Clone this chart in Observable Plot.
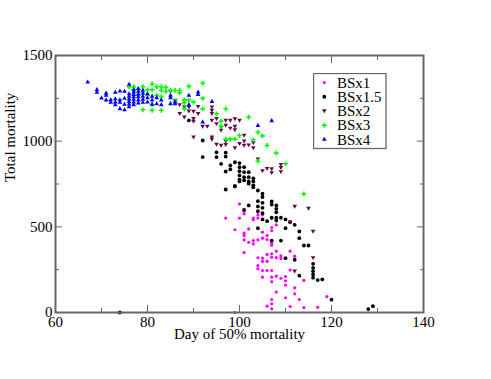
<!DOCTYPE html>
<html>
<head>
<meta charset="utf-8">
<script src="https://cdn.jsdelivr.net/npm/d3@7"></script>
<script src="https://cdn.jsdelivr.net/npm/@observablehq/plot@0.6"></script>
<style>
  html, body { margin: 0; padding: 0; background: #fff; }
  #wrap { position: relative; width: 491px; height: 379px; }
  #legend { position: absolute; left: 313px; top: 73px; }
</style>
</head>
<body>
<div id="wrap"><div id="chart"></div><div id="legend"></div></div>
<script>
// ---- data ----
const seriesNames = ["BSx1", "BSx1.5", "BSx2", "BSx3", "BSx4"];
const seriesColors = ["#ff00ff", "#000000", "#670748", "#00ff00", "#0000ff"];

const xMajorTicks = [60, 80, 100, 120, 140];
const xMinorTicks = [70, 90, 110, 130];
const yMajorTicks = [0, 500, 1000, 1500];
const yMinorTicks = [250, 750, 1250];

const bsx1Day  = [97,99,99,100,100,101,101,101,101,101,101,102,102,103,103,103,103,104,104,104,104,104,104,105,105,105,105,105,105,105,106,106,106,106,106,106,107,107,107,107,107,107,107,107,107,107,107,107,107,108,108,108,108,108,109,109,109,110,110,110,110,111,111,111,112,112,112,113,114,114,117,119];
const bsx1Mort = [551,483,0,634,551,591,576,463,449,424,350,488,410,551,541,420,400,570,551,424,319,274,255,570,469,434,317,298,245,206,449,426,339,298,245,37,551,477,404,393,343,323,245,206,180,76,51,22,496,512,358,320,212,119,330,315,200,210,185,160,86,358,248,35,329,144,109,76,187,29,30,93];

const bsx15Day  = [74,89,92,92,95,95,96,97,97,97,97,98,98,99,99,99,100,100,100,100,100,100,101,101,101,101,101,102,102,102,102,102,103,103,103,103,104,104,104,104,104,105,105,105,105,105,105,106,107,107,107,107,108,108,108,108,108,109,109,110,110,110,111,112,112,113,113,113,114,115,116,116,116,116,116,117,118,120,128,129];
const bsx15Mort = [0,1121,1004,907,935,907,868,933,910,823,718,858,835,877,737,737,872,848,825,800,775,765,848,819,790,771,599,819,790,752,765,625,783,742,765,731,712,650,619,591,492,693,674,640,611,580,543,533,648,630,553,420,625,605,585,553,537,553,420,543,492,317,527,512,308,473,434,215,391,391,284,261,241,222,203,189,193,75,20,37];

const bsx2Day  = [85,86,87,87,88,88,89,89,90,90,90,90,91,91,92,93,94,94,94,94,94,94,95,95,95,96,96,96,97,97,97,97,98,98,99,99,99,99,100,100,101,101,101,102,103,103,104,105,106,107,107,109,109,109,111,112,112,115,116,116];
const bsx2Mort = [1290,1238,1212,1160,1199,1140,1199,1175,1173,1131,1115,1023,1202,1160,1086,1086,1199,1179,1160,1121,1023,1010,1131,1101,981,1082,1063,975,1121,1092,1000,979,1121,1075,1130,1086,1065,960,1121,985,1033,1000,975,977,990,960,895,827,840,838,815,863,845,821,527,619,241,607,473,319];

const bsx3Day  = [76,77,77,78,78,79,79,80,80,81,81,81,81,82,82,83,83,83,83,84,84,85,86,86,87,87,88,88,88,89,89,90,92,92,92,95,96,96,97,97,98,99,100,102,103,104,105,106,104,108,110,114];
const bsx3Mort = [1318,1318,1300,1302,1270,1318,1183,1300,1268,1334,1300,1214,1180,1318,1268,1318,1296,1260,1180,1315,1290,1296,1296,1232,1296,1282,1241,1224,1189,1320,1240,1228,1338,1250,1189,1160,1117,1086,1189,1012,1012,1012,1033,1140,1008,1052,1031,975,883,930,868,693];

const bsx4Day  = [67,69,69,70,71,71,71,72,72,73,73,73,73,74,74,74,74,75,75,75,75,76,76,76,76,76,76,76,77,77,77,77,77,77,77,78,78,78,78,78,78,79,79,79,79,79,80,80,80,81,81,81,82,82,83,83,85,85,85,86,86,89,89,91,91,92,94,104,107];
const bsx4Mort = [1344,1300,1284,1251,1280,1267,1240,1241,1226,1284,1247,1228,1212,1292,1241,1226,1189,1290,1249,1214,1182,1331,1276,1261,1245,1230,1216,1200,1300,1286,1272,1258,1244,1228,1212,1306,1290,1274,1258,1240,1222,1296,1280,1262,1244,1226,1276,1252,1228,1262,1240,1214,1253,1218,1240,1212,1267,1253,1218,1228,1218,1267,1212,1286,1272,1111,1231,1091,1119];

// ---- build tables ----
const toRows = (name, days, morts) => days.map((d, i) => ({series: name, day: d, mort: morts[i]}));
const rows1 = toRows("BSx1", bsx1Day, bsx1Mort);
const rows15 = toRows("BSx1.5", bsx15Day, bsx15Mort);
const rows2 = toRows("BSx2", bsx2Day, bsx2Mort);
const rows3 = toRows("BSx3", bsx3Day, bsx3Mort);
const rows4 = toRows("BSx4", bsx4Day, bsx4Mort);

const triangleDown = {
  draw(ctx, size) {
    const h = Math.sqrt(size);
    ctx.moveTo(-h * 0.62, -h * 0.45);
    ctx.lineTo(h * 0.62, -h * 0.45);
    ctx.lineTo(0, h * 0.6);
    ctx.closePath();
  }
};
const symbols = [d3.symbolCircle, d3.symbolCircle, triangleDown, d3.symbolCross, d3.symbolTriangle];
const radii = [1.6, 1.9, 2.1, 2.0, 1.75];

const axisColor = "#666";
const font = "'Liberation Serif', 'Times New Roman', serif";

const chart = Plot.plot({
  width: 491,
  height: 379,
  marginLeft: 55,
  marginRight: 68,
  marginTop: 55,
  marginBottom: 67,
  x: {domain: [60, 140]},
  y: {domain: [0, 1500]},
  style: {fontFamily: font, fontSize: "15px", background: "#fff", color: "#000"},
  marks: [
    Plot.dot(rows1, {x: "day", y: "mort", r: radii[0], symbol: symbols[0], fill: seriesColors[0], stroke: "none"}),
    Plot.dot(rows15, {x: "day", y: "mort", r: radii[1], symbol: symbols[1], fill: seriesColors[1], stroke: "none"}),
    Plot.dot(rows2, {x: "day", y: "mort", r: radii[2], symbol: symbols[2], fill: seriesColors[2], stroke: "none"}),
    Plot.dot(rows3, {x: "day", y: "mort", r: radii[3], symbol: symbols[3], fill: seriesColors[3], stroke: "none"}),
    Plot.dot(rows4, {x: "day", y: "mort", r: radii[4], symbol: symbols[4], fill: seriesColors[4], stroke: "none"}),
    // inward ticks on all four sides
    Plot.axisX({ticks: xMajorTicks, tickSize: -7, fill: "none", stroke: axisColor, label: null}),
    Plot.axisX({ticks: xMinorTicks, tickSize: -4, fill: "none", stroke: axisColor, label: null}),
    Plot.axisX({anchor: "top", ticks: xMajorTicks, tickSize: -7, fill: "none", stroke: axisColor, label: null}),
    Plot.axisX({anchor: "top", ticks: xMinorTicks, tickSize: -4, fill: "none", stroke: axisColor, label: null}),
    Plot.axisY({ticks: yMajorTicks, tickSize: -7, fill: "none", stroke: axisColor, label: null}),
    Plot.axisY({ticks: yMinorTicks, tickSize: -4, fill: "none", stroke: axisColor, label: null}),
    Plot.axisY({anchor: "right", ticks: yMajorTicks, tickSize: -7, fill: "none", stroke: axisColor, label: null}),
    Plot.axisY({anchor: "right", ticks: yMinorTicks, tickSize: -4, fill: "none", stroke: axisColor, label: null}),
    // tick labels
    Plot.axisX({ticks: xMajorTicks, tickSize: 0, tickPadding: 4, tickFormat: d3.format("d"), fill: "#000", label: null, fontSize: 15}),
    Plot.axisY({ticks: yMajorTicks, tickSize: 0, tickPadding: 3, tickFormat: d3.format("d"), fill: "#000", label: null, fontSize: 15}),
    Plot.frame({stroke: axisColor, strokeWidth: 2}),
    // axis titles
    Plot.text(["Day of 50% mortality"], {frameAnchor: "bottom", dy: 26, fontSize: 15, fill: "#000"}),
    Plot.text(["Total mortality"], {frameAnchor: "left", rotate: -90, dx: -45, dy: -2, fontSize: 15, fill: "#000"})
  ]
});
document.getElementById("chart").appendChild(chart);

// ---- legend ----
const lg = d3.select("#legend").append("svg")
  .attr("width", 74).attr("height", 77)
  .style("font-family", font).style("font-size", "15px").style("display", "block");
lg.append("rect").attr("x", 0.5).attr("y", 0.5).attr("width", 72.5).attr("height", 75)
  .attr("fill", "#fff").attr("stroke", axisColor).attr("stroke-width", 1.3);
seriesNames.forEach((name, i) => {
  const cy = 9.5 + 14.25 * i;
  const r = radii[i];
  lg.append("path")
    .attr("transform", `translate(11.3,${cy})`)
    .attr("d", d3.symbol(symbols[i], Math.PI * r * r)())
    .attr("fill", seriesColors[i]);
  lg.append("text").attr("x", 24).attr("y", cy + 5).attr("fill", "#000").text(name);
});
</script>
</body>
</html>
